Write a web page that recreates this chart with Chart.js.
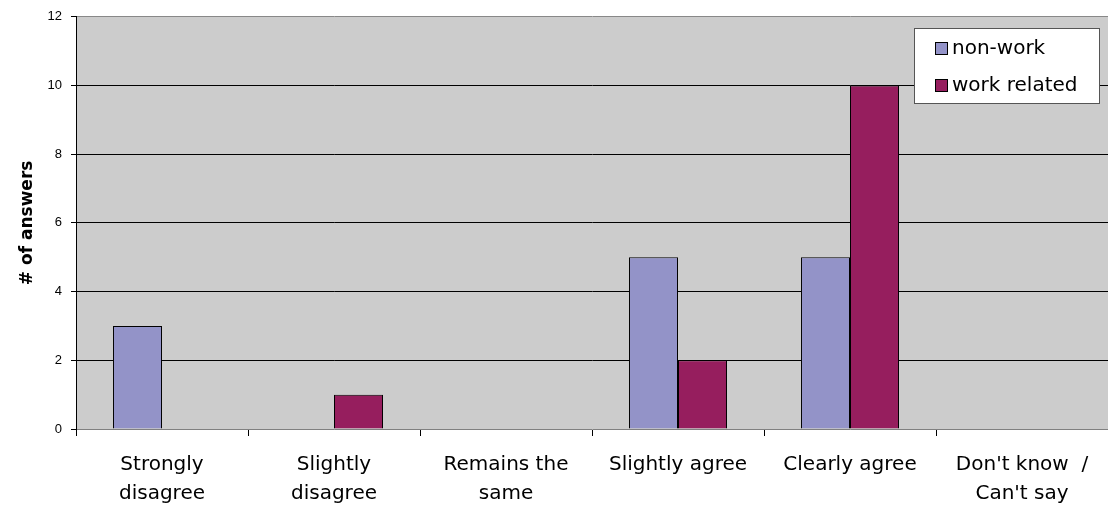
<!DOCTYPE html>
<html>
<head>
<meta charset="utf-8">
<script src="https://cdn.jsdelivr.net/npm/chart.js@4"></script>
<style>
  html, body { margin: 0; padding: 0; background: #fff; }
  #wrap { width: 1108px; height: 508px; position: relative; }
</style>
</head>
<body>
<div id="wrap"><canvas id="bars"></canvas></div>
<script>
var categories = [['Strongly', 'disagree'], ['Slightly', 'disagree'], ['Remains the', 'same'],
                  'Slightly agree', 'Clearly agree', ["Don't know  /", "Can't say"]];
var nonWork = [3, 0, 0, 5, 5, 0];
var workRelated = [0, 1, 0, 2, 10, 0];
var seriesNames = ['non-work', 'work related'];
var seriesColors = ['#9393c8', '#961e5e'];

// legend box drawn inside the plot, top right
var boxLegend = {
  id: 'boxLegend',
  afterDraw: function(chart) {
    var c = chart.ctx;
    c.save();
    c.fillStyle = '#fff';
    c.fillRect(914, 28, 185, 75);
    c.strokeStyle = '#555';
    c.lineWidth = 1;
    c.strokeRect(914.5, 28.5, 185, 75);
    c.font = '20px "DejaVu Sans"';
    c.textBaseline = 'middle';
    chart.data.datasets.forEach(function(ds, i) {
      var y = 48 + i * 37;
      c.fillStyle = ds.backgroundColor;
      c.fillRect(935, y - 6, 13, 13);
      c.strokeStyle = '#000';
      c.strokeRect(935.5, y - 5.5, 12, 12);
      c.fillStyle = '#000';
      c.fillText(ds.label, 952, y + 1);
    });
    c.restore();
  }
};

var plotBg = {
  id: 'plotBg',
  beforeDraw: function(chart) {
    var a = chart.chartArea, c = chart.ctx;
    c.save();
    c.fillStyle = '#cccccc';
    c.fillRect(a.left, a.top, a.right - a.left, a.bottom - a.top);
    c.restore();
  }
};

var ctx = document.getElementById('bars');

var myChart = new Chart(ctx, {
  type: 'bar',
  data: {
    labels: categories,
    datasets: [{
      label: seriesNames[0],
      data: nonWork,
      backgroundColor: seriesColors[0],
      borderColor: '#000',
      borderWidth: 1
    }, {
      label: seriesNames[1],
      data: workRelated,
      backgroundColor: seriesColors[1],
      borderColor: '#000',
      borderWidth: 1
    }]
  },
  plugins: [plotBg, boxLegend],
  options: {
    responsive: true,
    maintainAspectRatio: false,
    animation: false,
    layout: { padding: { top: 16, right: 0, left: 0, bottom: 0 } },
    datasets: { bar: { categoryPercentage: 0.57, barPercentage: 1 } },
    plugins: {
      legend: { display: false },
      tooltip: { enabled: false }
    },
    scales: {
      x: {
        grid: {
          offset: true,
          drawOnChartArea: false,
          tickLength: 7,
          tickColor: '#000'
        },
        border: { color: '#808080' },
        ticks: {
          color: '#000',
          padding: 14,
          maxRotation: 0,
          autoSkip: false,
          font: { family: 'DejaVu Sans', size: 20, lineHeight: 1.45 }
        },
        afterFit: function(s) { s.height = 508 - 429; }
      },
      y: {
        min: 0,
        max: 12,
        ticks: {
          stepSize: 2,
          color: '#000',
          padding: 9,
          font: { family: 'Liberation Sans', size: 13 }
        },
        grid: {
          color: function(c) { return c.tick.value === 12 ? '#888' : (c.tick.value === 0 ? 'rgba(0,0,0,0)' : '#000'); },
          tickColor: '#000',
          tickLength: 5
        },
        border: { color: '#000' },
        title: {
          display: true,
          text: '# of answers',
          color: '#000',
          padding: { top: 17, bottom: 0 },
          font: { family: 'DejaVu Sans', size: 17, weight: 'bold' }
        },
        afterFit: function(s) { s.width = 76; }
      }
    }
  }
});
</script>
</body>
</html>
